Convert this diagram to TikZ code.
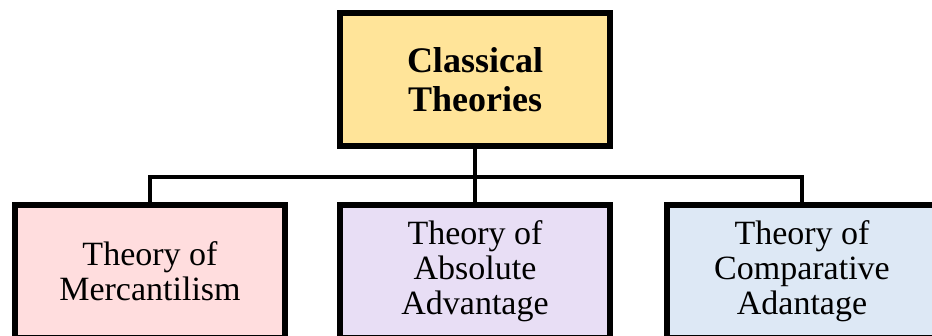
\documentclass[tikz,border=0pt]{standalone}
\usepackage{fontspec}
\setmainfont{Liberation Serif}
\definecolor{topyellow}{RGB}{255,228,153}
\definecolor{boxpink}{RGB}{255,221,222}
\definecolor{boxlav}{RGB}{232,222,245}
\definecolor{boxblue}{RGB}{221,232,245}
\begin{document}
\begin{tikzpicture}[x=1pt,y=-1pt,
  box/.style={draw=black, line width=6pt, minimum width=270pt, minimum height=133pt,
    align=center, inner sep=0pt, font=\fontsize{34}{35}\selectfont},
  conn/.style={line width=4pt}]
\useasboundingbox (0,0) rectangle (932,336);
\node[box, fill=topyellow, font=\bfseries\fontsize{36}{39}\selectfont] (top) at (475,79.5) {Classical\\Theories};
\node[box, fill=boxpink] (merc) at (150,271.5) {Theory of\\Mercantilism};
\node[box, fill=boxlav] (abs) at (475,271.5) {Theory of\\Absolute\\Advantage};
\node[box, fill=boxblue] (comp) at (802,271.5) {Theory of\\Comparative\\Adantage};
\coordinate (j) at (475,177);
\draw[conn] (top.south) -- (j);
\draw[conn] (j) -- (abs.north);
\draw[conn] (j) -| (merc.north);
\draw[conn] (j) -| (comp.north);
\end{tikzpicture}
\end{document}
